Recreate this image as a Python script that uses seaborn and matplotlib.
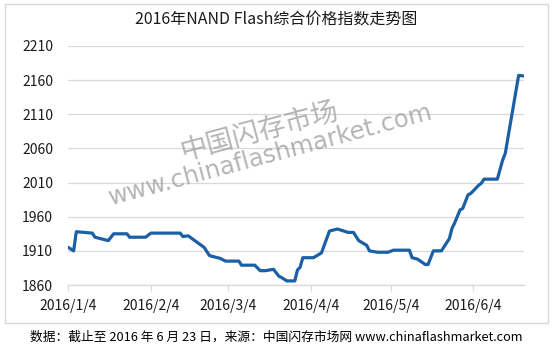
import matplotlib
matplotlib.use("Agg")
import matplotlib.pyplot as plt
import matplotlib.dates as mdates
from matplotlib.patches import Rectangle
import seaborn as sns
import pandas as pd

# ---- data ----
dates = ["2016-01-04", "2016-01-06", "2016-01-07", "2016-01-13", "2016-01-14",
         "2016-01-19", "2016-01-21", "2016-01-26", "2016-01-27", "2016-02-02",
         "2016-02-04", "2016-02-15", "2016-02-16", "2016-02-18", "2016-02-24",
         "2016-02-26", "2016-03-01", "2016-03-03", "2016-03-08", "2016-03-09",
         "2016-03-14", "2016-03-16", "2016-03-18", "2016-03-21", "2016-03-23",
         "2016-03-24", "2016-03-26", "2016-03-29", "2016-03-30", "2016-03-31",
         "2016-04-01", "2016-04-05", "2016-04-08", "2016-04-11", "2016-04-14",
         "2016-04-18", "2016-04-20", "2016-04-22", "2016-04-25", "2016-04-26",
         "2016-04-29", "2016-05-03", "2016-05-05", "2016-05-11", "2016-05-12",
         "2016-05-14", "2016-05-17", "2016-05-18", "2016-05-20", "2016-05-23",
         "2016-05-26", "2016-05-27", "2016-05-28", "2016-05-30", "2016-05-31",
         "2016-06-02", "2016-06-03", "2016-06-06", "2016-06-07", "2016-06-08",
         "2016-06-13", "2016-06-15", "2016-06-16", "2016-06-17", "2016-06-21",
         "2016-06-23"]
index_values = [1915, 1910, 1938, 1936, 1930,
                1925, 1935, 1935, 1930, 1930,
                1936, 1936, 1931, 1932, 1915,
                1903, 1899, 1895, 1895, 1889,
                1889, 1881, 1881, 1883, 1873,
                1871, 1866, 1866, 1882, 1886,
                1900, 1900, 1907, 1939, 1942,
                1937, 1937, 1925, 1918, 1910,
                1908, 1908, 1911, 1911, 1900,
                1898, 1890, 1890, 1910, 1910,
                1928, 1943, 1951, 1970, 1972,
                1992, 1994, 2006, 2009, 2015,
                2015, 2043, 2053, 2076, 2167,
                2166]
tick_dates = ["2016-01-04", "2016-02-04", "2016-03-04", "2016-04-04", "2016-05-04", "2016-06-04"]
tick_labels = ["2016/1/4", "2016/2/4", "2016/3/4", "2016/4/4", "2016/5/4", "2016/6/4"]
y_ticks = [1860, 1910, 1960, 2010, 2060, 2110, 2160, 2210]

title = "2016年NAND Flash综合价格指数走势图"
source = "数据：截止至 2016 年 6 月 23 日，来源：中国闪存市场网 www.chinaflashmarket.com"

df = pd.DataFrame({"date": pd.to_datetime(dates), "value": index_values})

sns.set_theme(style="white")
plt.rcParams["font.family"] = ["Noto Sans CJK SC", "DejaVu Sans"]

fig = plt.figure(figsize=(5.54, 3.51), dpi=100)
fig.patch.set_facecolor("white")
ax = fig.add_axes([0.1233, 0.188, 0.8225, 0.681])

sns.lineplot(data=df, x="date", y="value", ax=ax, color="#1b5fa5",
             linewidth=2.3, solid_joinstyle="round")

ax.set_xlim(pd.Timestamp("2016-01-04"), pd.Timestamp("2016-06-23"))
ax.set_ylim(y_ticks[0], y_ticks[-1])
ax.set_yticks(y_ticks)
ax.set_xticks(pd.to_datetime(tick_dates))
ax.set_xticklabels(tick_labels)
ax.set_xlabel("")
ax.set_ylabel("")

ax.grid(axis="y", color="#d9d9d9", linewidth=0.9)
ax.grid(axis="x", visible=False)
for s in ["top", "right", "left"]:
    ax.spines[s].set_visible(False)
ax.spines["bottom"].set_color("#d9d9d9")
ax.spines["bottom"].set_linewidth(0.9)
ax.tick_params(axis="y", length=0, pad=11, labelsize=10, labelcolor="#1a1a1a")
ax.tick_params(axis="x", length=4, width=0.8, color="#d9d9d9", direction="out",
               pad=6, labelsize=10, labelcolor="#1a1a1a", bottom=True)

# title and source
fig.text(0.499, 0.943, title, ha="center", va="center", fontsize=11.5, color="#1a1a1a")
fig.text(0.499, 0.040, source, ha="center", va="center", fontsize=9.2, color="#000000")

# watermark
fig.text(0.468, 0.625, "中国闪存市场", ha="center", va="center", fontsize=19.5,
         color="#959595", alpha=0.7, rotation=15)
fig.text(0.488, 0.558, "www.chinaflashmarket.com", ha="center", va="center",
         fontsize=17.5, color="#959595", alpha=0.7, rotation=15,
         family=["DejaVu Sans"])

# chart border
fig.patches.append(Rectangle((0.009, 0.0798), 0.980, 0.9088, transform=fig.transFigure,
                             fill=False, edgecolor="#d9d9d9", linewidth=1.0))

fig.savefig("out.png", dpi=100)
